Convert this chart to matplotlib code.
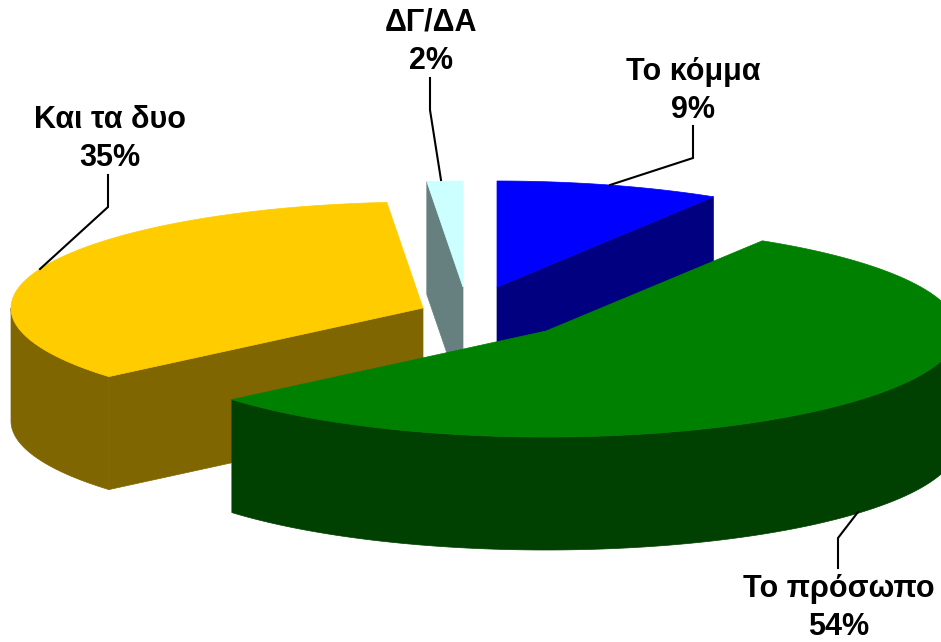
import numpy as np
import matplotlib
matplotlib.use("Agg")
import matplotlib.pyplot as plt
from matplotlib.patches import Polygon

plt.rcParams['font.family'] = ['Liberation Sans', 'DejaVu Sans']

# Data
categories = ['Το κόμμα', 'Το πρόσωπο', 'Και τα δυο', 'ΔΓ/ΔΑ']
pct_labels = [9, 54, 35, 2]
# slice shares as drawn
shares = [8.8, 55.0, 34.8, 1.4]

# Style / layout
top_colors = ['#0000FF', '#008000', '#FFCC00', '#CCFFFF']
side_colors = ['#000080', '#004000', '#806600', '#668080']
apexes = [(497, 287), (546, 331), (423, 308), (463, 287)]
RX, RY, DEPTH = 412, 106, 113
draw_order = [3, 0, 2, 1]
# which radial cut of each slice faces the viewer: 0 = start edge, -1 = end edge
visible_cut = [-1, None, 0, 0]
label_pos = [(693, 91), (839, 608), (110, 139), (431, 42)]
leaders = [[(610, 185), (693, 158), (693, 126)],
           [(858, 512), (838, 538), (838, 568)],
           [(40, 269), (108, 207), (108, 175)],
           [(441, 180), (430, 110), (430, 78)]]

W, H = 941, 642
fig = plt.figure(figsize=(W / 100, H / 100), dpi=100, facecolor='white')
ax = fig.add_axes([0, 0, 1, 1])
ax.set_xlim(0, W)
ax.set_ylim(H, 0)
ax.axis('off')

fracs = np.array(shares) / np.sum(shares)
ends = 90 - 360 * np.cumsum(fracs)
starts = ends + 360 * fracs


def rim(center, a0, a1, n=200):
    t = np.radians(np.linspace(a0, a1, n))
    return np.column_stack([center[0] + RX * np.cos(t), center[1] - RY * np.sin(t)])


for i in draw_order:
    c = np.array(apexes[i], float)
    a0, a1 = starts[i], ends[i]   # clockwise from a0 down to a1
    arc = rim(c, a0, a1)
    down = np.array([0, DEPTH])
    style = dict(closed=True, facecolor=side_colors[i], edgecolor=side_colors[i], linewidth=0.5)
    # radial cut wall
    if visible_cut[i] is not None:
        p = arc[visible_cut[i]]
        ax.add_patch(Polygon(np.array([c, p, p + down, c + down]), **style))
    # outer rim: the part of the arc on the near side of the ellipse
    ranges = []
    if min(a0, 0) > max(a1, -180):
        ranges.append((min(a0, 0), max(a1, -180)))
    if a0 > 180:
        ranges.append((a0, max(a1, 180)))
    for r0, r1 in ranges:
        r = rim(c, r0, r1)
        ax.add_patch(Polygon(np.vstack([r, (r + down)[::-1]]), **style))
    ax.add_patch(Polygon(np.vstack([c, arc]), closed=True, facecolor=top_colors[i],
                         edgecolor=top_colors[i], linewidth=0.5))

for name, pct, (x, y), pts in zip(categories, pct_labels, label_pos, leaders):
    ax.text(x, y, f'{name}\n{pct}%', ha='center', va='center', fontsize=22,
            fontweight='bold', linespacing=1.37, color='black')
    ax.plot(*zip(*pts), color='black', lw=1.5, solid_joinstyle='miter')

fig.savefig('out.png', dpi=100, facecolor='white')
